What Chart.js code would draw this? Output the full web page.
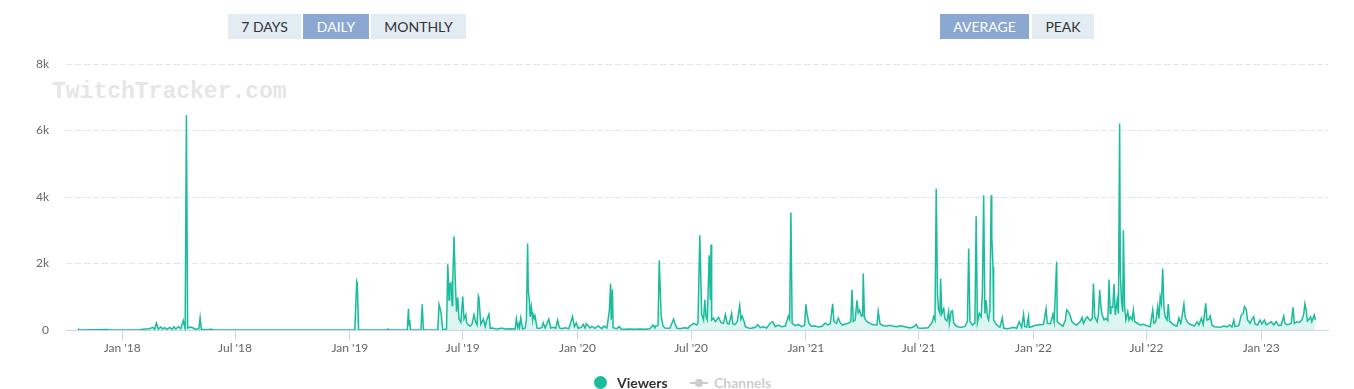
<!DOCTYPE html>
<html>
<head>
<meta charset="utf-8">
<title>Viewers</title>
<script src="https://cdn.jsdelivr.net/npm/chart.js"></script>
<style>
  body { margin: 0; background: #fff; font-family: Lato, sans-serif; }
  #wrap { position: relative; width: 1354px; height: 389px; overflow: hidden; }
  #wrap canvas { position: absolute; left: 0; top: 0; }
  .btn { position: absolute; top: 14px; height: 25px; line-height: 25px; text-align: center;
         font-size: 14px; color: #333; background: #e3ebf3; }
  .btn.on { background: #8ba8d3; color: #fff; }
  #watermark { position: absolute; left: 52px; top: 79px; line-height: 23px;
               font: bold 23px "Liberation Mono", monospace; color: #e6e6e6; }
  .leg { position: absolute; top: 374px; line-height: 17px; font-size: 14px; font-weight: bold; }
  .dot { position: absolute; width: 13px; height: 13px; border-radius: 50%; }
</style>
</head>
<body>
<div id="wrap">
  <div id="watermark">TwitchTracker.com</div>
  <canvas id="viewersChart" width="1354" height="389"></canvas>

  <div class="btn" style="left:228px; width:73px;">7 DAYS</div>
  <div class="btn on" style="left:303px; width:66px;">DAILY</div>
  <div class="btn" style="left:371px; width:95px;">MONTHLY</div>
  <div class="btn on" style="left:940px; width:89px;">AVERAGE</div>
  <div class="btn" style="left:1032px; width:62px;">PEAK</div>

  <div id="legend"></div>
</div>

<script>
// days counted from 2018-01-01 (negative = late 2017)
const dayNumbers = [
  // 2017 - 2018
  -71, -68, -23, -21, 28, 36, 44, 49, 52, 55,
  58, 62, 65, 68, 72, 76, 80, 83, 86, 90,
  94, 98, 101, 103, 105, 110, 114, 118, 123, 125,
  127, 133, 143, 147, 250, 373,
  // 2019
  376, 377, 379, 424, 426, 428, 457, 459, 460, 461,
  462, 479, 481, 483, 506, 508, 511, 514, 520, 522,
  524, 525, 527, 529, 530, 532, 534, 536, 538, 540,
  543, 546, 548, 551, 552, 555, 558, 561, 564, 567,
  569, 571, 572, 575, 579, 582, 584, 588, 590, 594,
  598, 603, 608, 614, 622, 630, 632, 634, 636, 637,
  639, 642, 646, 648, 650, 651, 653, 654, 656, 658,
  659, 661, 662, 665, 670, 673, 675, 678, 684, 687,
  692, 695, 698, 701, 705, 710, 716, 722, 725, 728,
  // 2020
  731, 736, 739, 742, 744, 747, 750, 753, 758, 763,
  769, 772, 777, 779, 781, 783, 784, 786, 787, 793,
  797, 800, 806, 814, 822, 830, 838, 846, 851, 854,
  855, 859, 861, 864, 867, 870, 878, 884, 886, 889,
  894, 901, 907, 910, 916, 921, 923, 926, 929, 932,
  934, 936, 938, 941, 943, 944, 945, 948, 951, 953,
  956, 960, 964, 967, 970, 973, 977, 979, 982, 986,
  990, 992, 994, 996, 999, 1004, 1009, 1015, 1019, 1023,
  1028, 1033, 1039, 1043, 1047, 1052, 1057, 1063, 1068, 1070,
  1072, 1074, 1079, 1084, 1089, 1094,
  // 2021
  1096, 1098, 1101, 1105, 1111, 1116, 1122, 1127, 1131, 1135,
  1139, 1141, 1145, 1148, 1151, 1155, 1159, 1164, 1168, 1170,
  1172, 1175, 1178, 1180, 1182, 1185, 1187, 1188, 1190, 1194,
  1199, 1204, 1210, 1212, 1215, 1220, 1226, 1231, 1236, 1242,
  1247, 1252, 1258, 1263, 1268, 1273, 1276, 1282, 1287, 1292,
  1298, 1301, 1303, 1305, 1307, 1309, 1311, 1312, 1314, 1317,
  1319, 1322, 1325, 1326, 1329, 1331, 1333, 1337, 1341, 1346,
  1351, 1355, 1357, 1359, 1363, 1366, 1367, 1369, 1371, 1374,
  1377, 1379, 1381, 1383, 1385, 1387, 1389, 1391, 1393, 1394,
  1395, 1396, 1397, 1402, 1407, 1411, 1413, 1418, 1423, 1429,
  1434, 1438, 1442, 1445, 1447, 1450, 1453, 1454, 1458,
  // 2022
  1464, 1467, 1472, 1477, 1481, 1483, 1488, 1492, 1494, 1498,
  1499, 1504, 1508, 1512, 1514, 1517, 1520, 1522, 1525, 1530,
  1536, 1539, 1541, 1544, 1547, 1552, 1555, 1557, 1559, 1563,
  1565, 1567, 1569, 1571, 1574, 1577, 1580, 1582, 1584, 1585,
  1588, 1590, 1592, 1595, 1597, 1599, 1600, 1602, 1604, 1605,
  1607, 1609, 1612, 1614, 1616, 1619, 1621, 1623, 1627, 1632,
  1637, 1643, 1648, 1652, 1654, 1657, 1660, 1662, 1664, 1666,
  1668, 1670, 1672, 1675, 1677, 1679, 1683, 1686, 1691, 1694,
  1697, 1699, 1702, 1704, 1707, 1711, 1715, 1719, 1723, 1726,
  1730, 1733, 1737, 1739, 1742, 1744, 1747, 1751, 1755, 1760,
  1766, 1771, 1775, 1779, 1782, 1784, 1790, 1794, 1797, 1799,
  1802, 1804, 1808, 1811, 1814, 1816, 1820, 1824,
  // 2023
  1827, 1831, 1834, 1838, 1842, 1846, 1850, 1854, 1858, 1862,
  1864, 1867, 1871, 1874, 1877, 1879, 1883, 1887, 1891, 1894,
  1896, 1898, 1900, 1903, 1905, 1907, 1909, 1911, 1913
];

// average viewers for each of those days
const viewerCounts = [
  // 2017 - 2018
  40, 0, 15, 0, 10, 30, 40, 80, 20, 210,
  30, 90, 30, 70, 20, 80, 20, 100, 30, 100,
  40, 290, 40, 6460, 60, 90, 60, 20, 40, 370,
  20, 10, 20, 0, 0, 0,
  // 2019
  1460, 1400, 0, 0, 30, 0, 0, 640, 150, 300,
  0, 0, 770, 0, 0, 770, 550, 0, 30, 1980,
  900, 1380, 1420, 740, 1500, 2820, 1480, 550, 980, 330,
  230, 1010, 330, 460, 230, 150, 120, 180, 460, 230,
  150, 1010, 940, 170, 330, 100, 280, 480, 50, 60,
  40, 30, 60, 30, 40, 30, 340, 80, 190, 60,
  370, 30, 60, 300, 2600, 1200, 840, 400, 700, 300,
  460, 350, 420, 60, 50, 80, 220, 60, 330, 60,
  80, 50, 300, 60, 40, 70, 40, 400, 100, 210,
  // 2020
  50, 80, 170, 60, 190, 130, 60, 110, 50, 120,
  40, 120, 60, 310, 600, 1400, 310, 1220, 70, 40,
  100, 30, 20, 30, 20, 30, 20, 40, 150, 60,
  120, 130, 2100, 420, 120, 60, 50, 330, 210, 60,
  40, 70, 50, 120, 200, 150, 200, 2850, 470, 300,
  910, 400, 300, 2250, 900, 2570, 300, 360, 250, 300,
  380, 220, 200, 470, 200, 180, 500, 180, 160, 250,
  740, 320, 420, 320, 100, 60, 50, 80, 160, 70,
  100, 60, 210, 250, 100, 150, 100, 120, 420, 320,
  3530, 200, 130, 170, 100, 140,
  // 2021
  770, 470, 200, 110, 120, 90, 110, 210, 150, 180,
  790, 250, 200, 360, 220, 150, 180, 200, 250, 1210,
  260, 300, 890, 520, 600, 420, 420, 1700, 360, 250,
  200, 160, 150, 560, 180, 130, 120, 140, 110, 100,
  130, 110, 80, 60, 90, 170, 60, 50, 60, 70,
  210, 400, 300, 4250, 1040, 590, 500, 1550, 490, 640,
  330, 270, 560, 200, 560, 580, 210, 120, 90, 80,
  110, 260, 2450, 260, 150, 200, 300, 3420, 220, 500,
  400, 1110, 4050, 500, 890, 400, 300, 600, 4050, 2800,
  2400, 1900, 300, 150, 80, 370, 60, 40, 50, 80,
  50, 250, 80, 470, 100, 90, 410, 80, 100,
  // 2022
  140, 150, 160, 170, 640, 200, 190, 470, 250, 2050,
  250, 170, 110, 290, 600, 540, 420, 270, 200, 150,
  260, 380, 200, 320, 400, 280, 350, 1400, 400, 250,
  460, 1200, 700, 460, 300, 350, 280, 1520, 500, 700,
  680, 1380, 450, 900, 500, 6210, 1750, 900, 550, 3000,
  700, 300, 550, 300, 400, 300, 600, 250, 210, 150,
  170, 130, 100, 600, 200, 250, 700, 350, 1000, 800,
  1850, 700, 400, 300, 780, 260, 200, 150, 120, 360,
  200, 400, 780, 400, 250, 180, 150, 120, 250, 150,
  350, 170, 800, 300, 320, 420, 150, 100, 90, 80,
  120, 90, 150, 90, 300, 100, 130, 450, 500, 700,
  620, 300, 200, 320, 400, 180, 150, 300,
  // 2023
  180, 300, 160, 200, 250, 150, 250, 130, 150, 420,
  200, 160, 170, 200, 680, 200, 250, 230, 300, 470,
  790, 600, 270, 330, 400, 250, 350, 450, 300
];

const xTickDates = ['2018-01-01', '2018-07-01', '2019-01-01', '2019-07-01', '2020-01-01', '2020-07-01',
                    '2021-01-01', '2021-07-01', '2022-01-01', '2022-07-01', '2023-01-01'];
const xTickLabels = ["Jan '18", "Jul '18", "Jan '19", "Jul '19", "Jan '20", "Jul '20",
                     "Jan '21", "Jul '21", "Jan '22", "Jul '22", "Jan '23"];
const yTickValues = [0, 2000, 4000, 6000, 8000];
const yTickLabels = ['0', '2k', '4k', '6k', '8k'];

const viewersColor = '#1abc9c';

if (dayNumbers.length !== viewerCounts.length) {
    console.error('length mismatch', dayNumbers.length, viewerCounts.length);
}

const startDay = Date.UTC(2018, 0, 1);
const tickDays = xTickDates.map(s => Math.round((Date.parse(s) - startDay) / 86400000));

const ctx = document.getElementById('viewersChart').getContext('2d');

new Chart(ctx, {
    type: 'line',
    data: {
        datasets: [{
            label: 'Viewers',
            data: dayNumbers.map((d, i) => ({ x: d, y: viewerCounts[i] })),
            borderColor: viewersColor,
            backgroundColor: 'rgba(26, 188, 156, 0.15)',
            borderWidth: 1.5,
            fill: 'origin',
            pointRadius: 0,
            tension: 0
        }]
    },
    options: {
        responsive: false,
        animation: false,
        events: [],
        layout: { padding: { top: 64, right: 26, left: 0, bottom: 29 } },
        scales: {
            x: {
                type: 'linear',
                min: -90,
                max: 1933,
                afterBuildTicks: (scale) => {
                    scale.ticks = tickDays.map(v => ({ value: v }));
                },
                afterFit: (scale) => { scale.height = 30; },
                ticks: {
                    autoSkip: false,
                    maxRotation: 0,
                    padding: 1,
                    color: '#666',
                    font: { family: 'Lato', size: 12 },
                    callback: (value, index) => xTickLabels[index]
                },
                grid: { drawOnChartArea: false, tickLength: 10, color: '#ccd6eb' },
                border: { color: '#ccd6eb', width: 1 }
            },
            y: {
                min: 0,
                max: 8000,
                afterBuildTicks: (scale) => {
                    scale.ticks = yTickValues.map(v => ({ value: v }));
                },
                afterFit: (scale) => { scale.width = 66; },
                ticks: {
                    padding: 17,
                    color: '#666',
                    font: { family: 'Lato', size: 12 },
                    callback: (value, index) => yTickLabels[index]
                },
                grid: { color: '#e6e6e6', drawTicks: false },
                border: { display: false, dash: [6, 3] }
            }
        },
        plugins: {
            legend: { display: false },
            tooltip: { enabled: false }
        }
    }
});

// leyenda en html, como la del sitio
const legend = document.getElementById('legend');
legend.innerHTML =
    '<div class="dot" style="left:594px; top:376px; background:' + viewersColor + ';"></div>' +
    '<div class="leg" style="left:617px; color:#333;">Viewers</div>' +
    '<div style="position:absolute; left:690px; top:382px; width:18px; height:2px; background:#ccc;"></div>' +
    '<div class="dot" style="left:695px; top:379px; width:8px; height:8px; background:#ccc;"></div>' +
    '<div class="leg" style="left:714px; color:#ccc;">Channels</div>';
</script>
</body>
</html>
